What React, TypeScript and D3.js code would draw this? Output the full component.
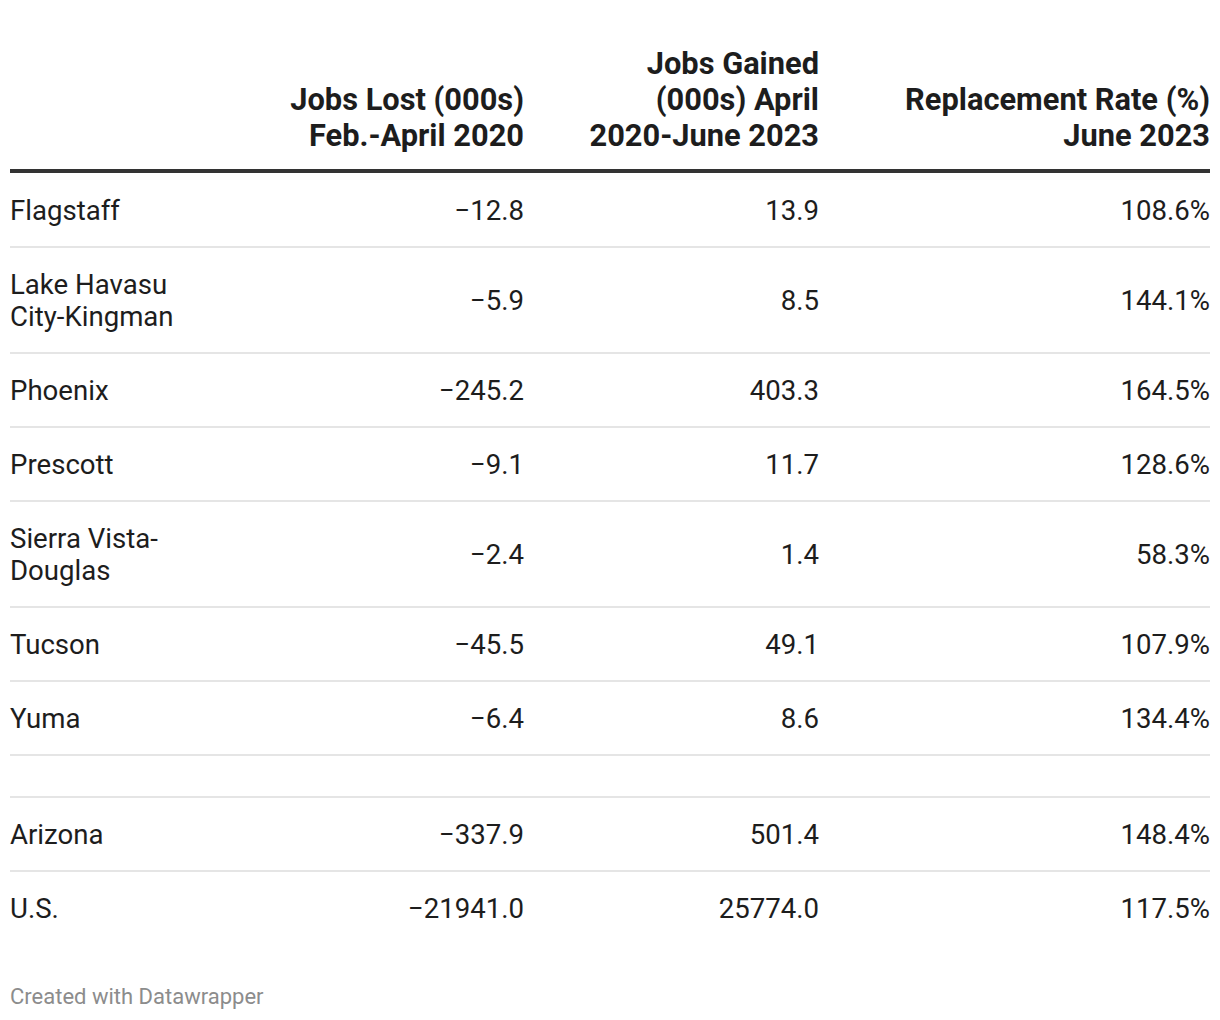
import React from "react";
import * as d3 from "d3";

const headers: string[][] = [
  [],
  ["Jobs Lost (000s)", "Feb.-April 2020"],
  ["Jobs Gained", "(000s) April", "2020-June 2023"],
  ["Replacement Rate (%)", "June 2023"],
];

const regions: string[][] = [
  ["Flagstaff"],
  ["Lake Havasu", "City-Kingman"],
  ["Phoenix"],
  ["Prescott"],
  ["Sierra Vista-", "Douglas"],
  ["Tucson"],
  ["Yuma"],
  [],
  ["Arizona"],
  ["U.S."],
];
const jobsLost: (number | null)[] = [-12.8, -5.9, -245.2, -9.1, -2.4, -45.5, -6.4, null, -337.9, -21941.0];
const jobsGained: (number | null)[] = [13.9, 8.5, 403.3, 11.7, 1.4, 49.1, 8.6, null, 501.4, 25774.0];
const replacement: (number | null)[] = [108.6, 144.1, 164.5, 128.6, 58.3, 107.9, 134.4, null, 148.4, 117.5];

const W = 1220;
const H = 1020;
const LEFT = 10;
const RIGHT = 1210;
const colRight = [LEFT, 524, 819, RIGHT];
const headerBottom = 171;
const headerLH = 36;
const bodyFS = 27.6;
const headFS = 30.8;
const lineH = 32;
const pad = 21;

const fmt = d3.format(".1f");

export default function App() {
  let y = headerBottom + 2;
  const rows = regions.map((lines, i) => {
    const n = lines.length;
    const h = n * lineH + pad * 2;
    const r = { top: y, h, lines, i };
    y += h;
    return r;
  });

  return (
    <svg
      width={W}
      height={H}
      style={{ position: "absolute", left: 0, top: 0, background: "#fff" }}
      fontFamily="Roboto, 'Noto Sans', sans-serif"
    >
      <rect x={0} y={0} width={W} height={H} fill="#fff" />
      {headers.map((lines, c) =>
        lines.map((t, k) => (
          <text
            key={`h${c}-${k}`}
            x={colRight[c]}
            y={headerBottom - 25 - (lines.length - 1 - k) * headerLH}
            textAnchor="end"
            fontSize={headFS}
            fontWeight={700}
            fill="#1d1d1d"
          >
            {t}
          </text>
        ))
      )}
      <line x1={LEFT} x2={RIGHT} y1={headerBottom} y2={headerBottom} stroke="#333" strokeWidth={4} />
      {rows.map((r) => {
        const cy = r.top + r.h / 2;
        const n = r.lines.length;
        const vals = [jobsLost[r.i], jobsGained[r.i], replacement[r.i]];
        return (
          <g key={`r${r.i}`}>
            {r.lines.map((t, k) => (
              <text
                key={k}
                x={LEFT}
                y={cy + (k - (n - 1) / 2) * lineH + bodyFS * 0.35}
                fontSize={bodyFS}
                fill="#1d1d1d"
              >
                {t}
              </text>
            ))}
            {vals.map((v, c) =>
              v === null ? null : (
                <text
                  key={`v${c}`}
                  x={colRight[c + 1]}
                  y={cy + bodyFS * 0.35}
                  textAnchor="end"
                  fontSize={bodyFS}
                  fill="#1d1d1d"
                >
                  {fmt(v) + (c === 2 ? "%" : "")}
                </text>
              )
            )}
            {r.i < rows.length - 1 && (
              <line
                x1={LEFT}
                x2={RIGHT}
                y1={r.top + r.h}
                y2={r.top + r.h}
                stroke="#e5e5e5"
                strokeWidth={2}
              />
            )}
          </g>
        );
      })}
      <text x={LEFT} y={1004} fontSize={22} fill="#8c8c8c">
        Created with Datawrapper
      </text>
    </svg>
  );
}
